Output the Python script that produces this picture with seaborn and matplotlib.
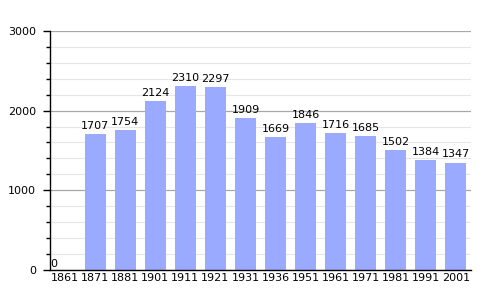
import matplotlib
matplotlib.use("Agg")
import matplotlib.pyplot as plt
import seaborn as sns
from matplotlib.ticker import MultipleLocator

years = ["1861", "1871", "1881", "1901", "1911", "1921", "1931", "1936",
         "1951", "1961", "1971", "1981", "1991", "2001"]
population = [0, 1707, 1754, 2124, 2310, 2297, 1909, 1669,
              1846, 1716, 1685, 1502, 1384, 1347]

sns.set_style("white")
plt.rcParams["font.family"] = ["DejaVu Sans"]
plt.rcParams["text.color"] = "black"
plt.rcParams["xtick.color"] = "black"
plt.rcParams["ytick.color"] = "black"

fig = plt.figure(figsize=(5, 3), dpi=100)
ax = fig.add_axes([0.10, 0.10, 0.842, 0.797])

sns.barplot(x=years, y=population, color="#99aaff", saturation=1,
            width=0.7, linewidth=0, ax=ax, zorder=2)

ax.set_ylim(0, 3000)
ax.set_xlim(-0.5, len(years) - 0.5)
ax.yaxis.set_major_locator(MultipleLocator(1000))
ax.yaxis.set_minor_locator(MultipleLocator(200))
ax.grid(which="major", axis="y", color="#a8a8a8", linewidth=0.9, zorder=0)
ax.grid(which="minor", axis="y", color="#e6e6e6", linewidth=0.8, zorder=0)
ax.set_axisbelow(True)

for s in ["top", "right"]:
    ax.spines[s].set_visible(False)
ax.spines["left"].set_color("black")
ax.spines["bottom"].set_color("black")
ax.spines["left"].set_linewidth(1)
ax.spines["bottom"].set_linewidth(1)

ax.tick_params(axis="y", which="major", length=5, width=1, direction="out",
               labelsize=8, left=True, pad=5)
ax.tick_params(axis="y", which="minor", length=3, width=1, direction="out", left=True)
ax.tick_params(axis="x", length=0, labelsize=8, pad=2)

for i, v in enumerate(population):
    if v == 0:
        # the zero label sits against the axis, as in the original
        ax.text(i - 0.48, v + 10, str(v), ha="left", va="bottom", fontsize=8)
    else:
        ax.text(i, v + 40, str(v), ha="center", va="bottom", fontsize=8)

ax.set_xlabel("")
ax.set_ylabel("")

fig.savefig("out.png", dpi=100)
